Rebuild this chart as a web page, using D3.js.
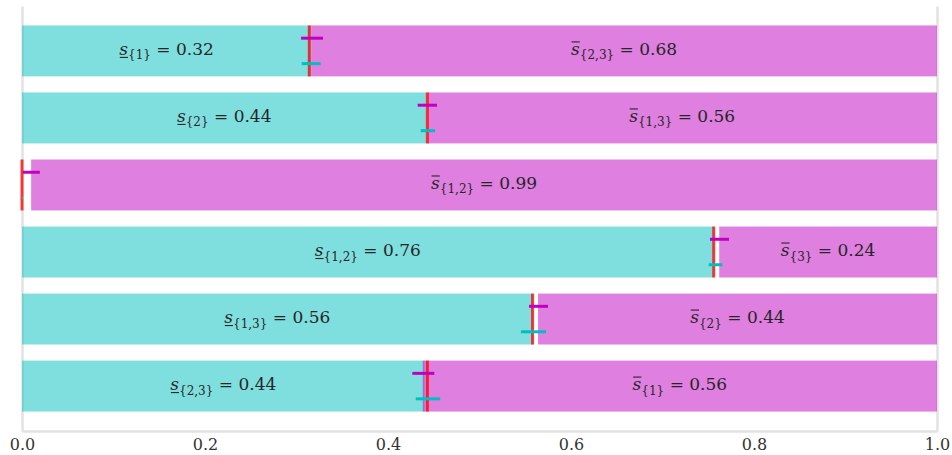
<!DOCTYPE html>
<html>
<head>
<meta charset="UTF-8">
<script src="https://d3js.org/d3.v7.min.js"></script>
<style>
  body { margin: 0; background: #fff; }
  svg text { font-family: "DejaVu Serif", "Liberation Serif", serif; }
</style>
</head>
<body>
<svg width="952" height="455"></svg>
<script>
// one row per coalition: lower bound (cyan, from 0) and upper bound (magenta, to 1)
const lowerSets = ["{1}", "{2}", "{3}", "{1,2}", "{1,3}", "{2,3}"];
const upperSets = ["{2,3}", "{1,3}", "{1,2}", "{3}", "{2}", "{1}"];
const lowerVals = [0.316, 0.442, 0.0, 0.756, 0.558, 0.440];
const upperVals = [0.684, 0.557, 0.990, 0.238, 0.436, 0.562];
const redVals = [0.314, 0.443, 0.0, 0.756, 0.558, 0.443];
const magMid = [0.317, 0.443, 0.0102, 0.7623, 0.5645, 0.4386];
const magErr = [0.012, 0.0106, 0.0093, 0.0104, 0.0104, 0.012];
const cyanMid = [0.316, 0.4436, 0.0005, 0.758, 0.559, 0.4437];
const cyanErr = [0.0104, 0.0078, 0.0006, 0.0075, 0.0137, 0.0134];
const xTicks = [0, 0.2, 0.4, 0.6, 0.8, 1.0];

const rows = d3.range(lowerSets.length);
const svg = d3.select("svg");

const x = d3.scaleLinear().domain([0, 1]).range([22, 937]);
const y = d3.scaleBand().domain(rows).range([6, 431]).paddingInner(0.24).paddingOuter(0.29);
const bw = y.bandwidth();
const fmt = d3.format(".2f");

const cyan = "rgba(0,191,191,0.5)";
const magenta = "rgba(191,0,191,0.5)";
const serif = "DejaVu Serif, Liberation Serif, serif";

// rahmen / achsen
const frame = "#e2e2e2";
svg.append("g").attr("transform", "translate(22,0)")
  .call(d3.axisLeft(y).tickSize(0).tickFormat("").tickSizeOuter(0))
  .call(g => g.select(".domain").attr("stroke", frame).attr("stroke-width", 2.5));
svg.append("g").attr("transform", "translate(937,0)")
  .call(d3.axisRight(y).tickSize(0).tickFormat("").tickSizeOuter(0))
  .call(g => g.select(".domain").attr("stroke", frame).attr("stroke-width", 2.5));
svg.append("g").attr("transform", "translate(0,431)")
  .attr("font-family", serif)
  .call(d3.axisBottom(x).tickValues(xTicks).tickFormat(d3.format(".1f")).tickSize(0).tickPadding(8))
  .call(g => g.select(".domain").attr("stroke", frame).attr("stroke-width", 2.5))
  .call(g => g.selectAll("text").attr("font-size", 16).attr("fill", "#333"));

const g = svg.append("g");

// balken
g.selectAll(".low").data(rows).join("rect")
  .attr("x", x(0)).attr("y", i => y(i))
  .attr("width", i => x(lowerVals[i]) - x(0)).attr("height", bw)
  .attr("fill", cyan);

g.selectAll(".up").data(rows).join("rect")
  .attr("x", i => x(1 - upperVals[i])).attr("y", i => y(i))
  .attr("width", i => x(1) - x(1 - upperVals[i])).attr("height", bw)
  .attr("fill", magenta);

// rote linie
g.selectAll(".red").data(rows).join("line")
  .attr("x1", i => x(redVals[i])).attr("x2", i => x(redVals[i]))
  .attr("y1", i => y(i)).attr("y2", i => y(i) + bw)
  .attr("stroke", "rgba(255,0,0,0.78)").attr("stroke-width", 3);

// fehlerstriche
g.selectAll(".mtick").data(rows).join("line")
  .attr("x1", i => Math.max(x(0), x(magMid[i] - magErr[i]))).attr("x2", i => x(magMid[i] + magErr[i]))
  .attr("y1", i => y(i) + bw * 0.25).attr("y2", i => y(i) + bw * 0.25)
  .attr("stroke", "#bf00bf").attr("stroke-width", 3);

g.selectAll(".ctick").data(rows).join("line")
  .attr("x1", i => Math.max(x(0), x(cyanMid[i] - cyanErr[i]))).attr("x2", i => x(cyanMid[i] + cyanErr[i]))
  .attr("y1", i => y(i) + bw * 0.75).attr("y2", i => y(i) + bw * 0.75)
  .attr("stroke", "#00bfbf").attr("stroke-width", 3);

// beschriftung
function addLabel(xc, yc, sub, val, mark) {
  const t = g.append("text").attr("x", xc).attr("y", yc)
    .attr("font-family", serif)
    .attr("text-anchor", "middle").attr("font-size", 17).attr("fill", "#262626");
  t.append("tspan").attr("font-style", "italic").text("s");
  t.append("tspan").attr("font-size", 12).attr("dy", 4.5).text(sub);
  t.append("tspan").attr("dy", -4.5).text(" = " + fmt(val));
  const e = t.node().getExtentOfChar(0);
  const ly = mark === "under" ? yc + 2.5 : yc - 13;
  g.append("line")
    .attr("x1", e.x + 0.5).attr("x2", e.x + e.width)
    .attr("y1", ly).attr("y2", ly)
    .attr("stroke", "#262626").attr("stroke-width", 1.1);
}

rows.forEach(i => {
  const yc = y(i) + bw / 2 + 4;
  if (x(lowerVals[i]) - x(0) > 60)
    addLabel((x(0) + x(lowerVals[i])) / 2, yc, lowerSets[i], lowerVals[i], "under");
  if (x(1) - x(1 - upperVals[i]) > 60)
    addLabel((x(1 - upperVals[i]) + x(1)) / 2, yc, upperSets[i], upperVals[i], "over");
});
</script>
</body>
</html>
